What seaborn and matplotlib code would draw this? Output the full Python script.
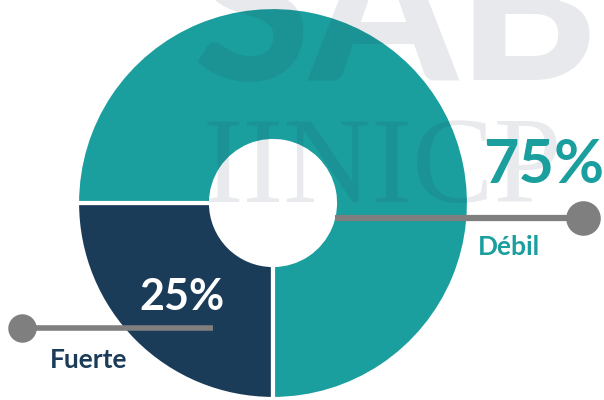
import matplotlib
matplotlib.use("Agg")
import matplotlib.pyplot as plt
import seaborn as sns

# data
labels = ["Fuerte", "Débil"]
values = [25, 75]
pct_text = ["25%", "75%"]
colors = ["#1b3c59", "#1a9e9e"]

sns.set_theme(style="white")
plt.rcParams["font.family"] = ["Lato", "DejaVu Sans"]

fig = plt.figure(figsize=(6.04, 4.0), dpi=100)
ax = fig.add_axes([0, 0, 1, 1])

# donut (pixel-ish coords, y up)
cx, cy, r_out, r_in = 273, 197, 196, 62
ax.pie(values, colors=colors, startangle=180, counterclock=True,
       radius=r_out, center=(cx, cy),
       wedgeprops=dict(width=r_out - r_in, edgecolor="white", linewidth=3))

# faint watermark
ax.text(193, 320, "SAB", fontsize=152, fontweight="black", color="#2b3a55",
        alpha=0.11, ha="left", va="baseline", zorder=3)
ax.text(203, 198, "IINICP", fontsize=88, family="Liberation Serif",
        color="#2b3a55", alpha=0.10, ha="left", va="baseline", zorder=3)

# connector lines
ax.plot([335, 583], [182, 182], color="#7f7f7f", lw=4.5,
        solid_capstyle="butt", zorder=4)
ax.scatter([583], [182], s=620, color="#7f7f7f", zorder=5, linewidths=0)
ax.plot([22, 213], [72, 72], color="#7f7f7f", lw=4, solid_capstyle="butt",
        zorder=4)
ax.scatter([22], [72], s=420, color="#7f7f7f", zorder=5, linewidths=0)

# labels
ax.text(483, 217, pct_text[1], fontsize=44, fontweight="bold",
        color=colors[1], ha="left", va="baseline", zorder=6)
ax.text(139, 90, pct_text[0], fontsize=31, fontweight="bold",
        color="white", ha="left", va="baseline", zorder=6)
ax.text(478, 145, labels[1], fontsize=19, fontweight="bold",
        color=colors[1], ha="left", va="baseline", zorder=6)
ax.text(50, 32, labels[0], fontsize=19, fontweight="bold",
        color=colors[0], ha="left", va="baseline", zorder=6)

ax.set_xlim(0, 604)
ax.set_ylim(0, 400)
ax.set_aspect("equal")
ax.axis("off")

fig.savefig("out.png", dpi=100)
